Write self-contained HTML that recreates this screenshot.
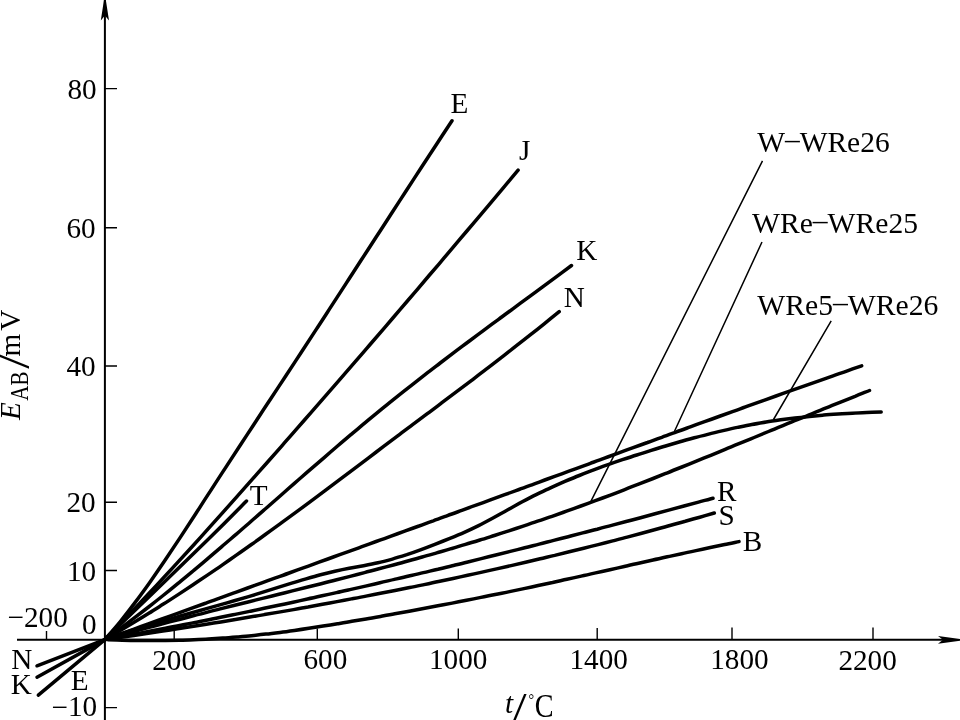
<!DOCTYPE html>
<html lang="zh"><head><meta charset="utf-8"><title>E_AB / t</title>
<style>html,body{margin:0;padding:0;background:#fff;overflow:hidden}body{width:960px;height:720px}svg{display:block}</style>
</head><body>
<svg width="960" height="720" viewBox="0 0 960 720">
<rect width="960" height="720" fill="#fff"/>
<g stroke="#000" fill="none">
<line x1="104.9" y1="0" x2="104.9" y2="720" stroke-width="2"/>
<line x1="17" y1="639.7" x2="945" y2="639.7" stroke-width="2.1"/>
<path d="M105 88.6H117M105 227.8H117M105 366.0H117M105 502.2H117M105 570.5H117M105 707.6H117M46.5 639.5V631.0M174.2 639.5V630.8M317.3 639.5V628.5M458.3 639.5V628.5M597.2 639.5V628.0M732.0 639.5V627.6M873.0 639.5V627.6" stroke-width="1.4"/>
<path d="M762.5 160.8L591.0 501.2M762.0 242.0L674.5 431.2M831.2 320.8L773.5 419.5" stroke-width="1.5"/>
</g>
<path d="M104.9 -6L100.8 20.5L104.9 15.5L109 20.5Z" fill="#000"/>
<path d="M966 639.8L938 636L943 639.8L938 643.8Z" fill="#000"/>
<g stroke="#000" stroke-width="3.5" fill="none" stroke-linecap="round" stroke-linejoin="round">
<path d="M104.8 639.6C107.3 636.7 114.9 628.1 119.9 622.0C124.9 615.8 130.0 609.3 135.0 602.6C140.0 595.9 145.1 589.0 150.1 581.9C155.1 574.8 160.2 567.4 165.2 560.0C170.2 552.6 175.2 545.0 180.3 537.4C185.3 529.7 190.3 522.0 195.4 514.2C200.4 506.5 205.4 498.6 210.5 490.9C215.5 483.1 220.5 475.3 225.6 467.6C230.6 459.9 235.6 452.2 240.7 444.5C245.7 436.8 250.7 429.2 255.8 421.5C260.8 413.9 265.8 406.2 270.9 398.6C275.9 391.0 280.9 383.3 285.9 375.7C291.0 368.0 296.0 360.4 301.0 352.7C306.1 345.0 311.1 337.3 316.1 329.6C321.2 321.9 326.2 314.1 331.2 306.4C336.3 298.6 341.3 290.9 346.3 283.1C351.4 275.4 356.4 267.6 361.4 259.8C366.5 252.1 371.5 244.3 376.5 236.5C381.6 228.8 386.6 221.0 391.6 213.2C396.6 205.5 401.7 197.7 406.7 190.0C411.7 182.3 416.8 174.5 421.8 166.8C426.8 159.1 431.9 151.4 436.9 143.7C441.9 136.0 449.5 124.6 452.0 120.8"/>
<path d="M104.8 639.6C107.3 637.1 114.6 629.5 119.6 624.4C124.5 619.3 129.4 614.1 134.3 609.0C139.2 603.8 144.2 598.6 149.1 593.3C154.0 588.1 158.9 582.8 163.8 577.4C168.8 572.1 173.7 566.8 178.6 561.4C183.5 556.0 188.4 550.6 193.4 545.2C198.3 539.8 203.2 534.3 208.1 528.9C213.0 523.4 218.0 517.9 222.9 512.4C227.8 506.9 232.7 501.4 237.6 495.8C242.6 490.3 247.5 484.8 252.4 479.2C257.3 473.6 262.2 468.1 267.2 462.5C272.1 456.9 277.0 451.3 281.9 445.8C286.8 440.2 291.8 434.6 296.7 428.9C301.6 423.3 306.5 417.7 311.4 412.1C316.4 406.4 321.3 400.8 326.2 395.2C331.1 389.5 336.1 383.9 341.0 378.2C345.9 372.5 350.8 366.8 355.7 361.1C360.7 355.5 365.6 349.7 370.5 344.0C375.4 338.3 380.3 332.6 385.3 326.9C390.2 321.1 395.1 315.4 400.0 309.6C404.9 303.9 409.9 298.1 414.8 292.4C419.7 286.6 424.6 280.8 429.5 275.0C434.5 269.2 439.4 263.5 444.3 257.7C449.2 251.9 454.1 246.1 459.1 240.2C464.0 234.4 468.9 228.6 473.8 222.8C478.7 217.0 483.7 211.1 488.6 205.3C493.5 199.5 498.4 193.6 503.3 187.8C508.3 181.9 515.6 173.2 518.1 170.2"/>
<path d="M104.8 639.6C121.9 623.0 183.9 563.1 207.5 540.0C231.1 516.9 240.0 507.5 246.5 501.0"/>
<path d="M104.8 639.6C107.2 637.9 114.5 632.7 119.4 629.1C124.2 625.5 129.1 621.9 134.0 618.2C138.8 614.5 143.7 610.8 148.6 607.0C153.4 603.2 158.3 599.3 163.1 595.5C168.0 591.6 172.9 587.6 177.7 583.6C182.6 579.7 187.4 575.6 192.3 571.6C197.2 567.5 202.0 563.5 206.9 559.3C211.8 555.2 216.6 551.1 221.5 546.9C226.3 542.7 231.2 538.6 236.1 534.4C240.9 530.1 245.8 525.9 250.6 521.7C255.5 517.5 260.4 513.2 265.2 509.0C270.1 504.7 275.0 500.4 279.8 496.2C284.7 491.9 289.5 487.7 294.4 483.4C299.3 479.2 304.1 474.9 309.0 470.7C313.8 466.5 318.7 462.3 323.6 458.1C328.4 453.9 333.3 449.7 338.1 445.5C343.0 441.4 347.9 437.2 352.7 433.1C357.6 429.0 362.5 425.0 367.3 420.9C372.2 416.9 377.0 412.9 381.9 408.9C386.8 404.9 391.6 401.0 396.5 397.1C401.3 393.2 406.2 389.4 411.1 385.6C415.9 381.8 420.8 378.0 425.7 374.2C430.5 370.4 435.4 366.7 440.2 363.0C445.1 359.3 450.0 355.6 454.8 351.9C459.7 348.3 464.5 344.6 469.4 341.0C474.3 337.3 479.1 333.7 484.0 330.1C488.9 326.5 493.7 322.9 498.6 319.3C503.4 315.7 508.3 312.2 513.2 308.6C518.0 305.0 522.9 301.4 527.7 297.8C532.6 294.3 537.5 290.7 542.3 287.1C547.2 283.5 552.1 279.9 556.9 276.3C561.8 272.7 569.1 267.3 571.5 265.5"/>
<path d="M104.8 639.6C107.2 638.2 114.6 634.0 119.5 631.1C124.3 628.2 129.2 625.3 134.1 622.3C139.0 619.4 143.9 616.4 148.8 613.3C153.7 610.3 158.5 607.2 163.4 604.1C168.3 601.0 173.2 597.8 178.1 594.6C183.0 591.4 187.9 588.2 192.7 585.0C197.6 581.7 202.5 578.4 207.4 575.1C212.3 571.8 217.2 568.5 222.1 565.1C227.0 561.7 231.8 558.3 236.7 554.9C241.6 551.5 246.5 548.0 251.4 544.5C256.3 541.1 261.2 537.6 266.0 534.0C270.9 530.5 275.8 527.0 280.7 523.4C285.6 519.9 290.5 516.3 295.4 512.7C300.2 509.1 305.1 505.5 310.0 501.8C314.9 498.2 319.8 494.5 324.7 490.9C329.6 487.2 334.4 483.6 339.3 479.9C344.2 476.2 349.1 472.5 354.0 468.8C358.9 465.1 363.8 461.4 368.6 457.8C373.5 454.1 378.4 450.4 383.3 446.7C388.2 443.0 393.1 439.4 398.0 435.7C402.8 432.0 407.7 428.4 412.6 424.7C417.5 421.1 422.4 417.4 427.3 413.7C432.2 410.1 437.0 406.4 441.9 402.7C446.8 399.0 451.7 395.4 456.6 391.7C461.5 388.0 466.4 384.3 471.3 380.6C476.1 376.9 481.0 373.1 485.9 369.4C490.8 365.7 495.7 361.9 500.6 358.1C505.5 354.3 510.3 350.6 515.2 346.7C520.1 342.9 525.0 339.1 529.9 335.2C534.8 331.4 539.7 327.5 544.5 323.6C549.4 319.6 556.8 313.7 559.2 311.7"/>
<path d="M104.8 639.6C107.2 638.7 114.3 636.2 119.1 634.4C123.8 632.7 128.6 631.0 133.4 629.3C138.1 627.6 142.9 625.8 147.6 624.1C152.4 622.4 157.2 620.7 161.9 619.0C166.7 617.2 171.4 615.5 176.2 613.8C181.0 612.1 185.7 610.4 190.5 608.6C195.2 606.9 200.0 605.2 204.8 603.5C209.5 601.8 214.3 600.1 219.0 598.3C223.8 596.6 228.6 594.9 233.3 593.2C238.1 591.5 242.9 589.7 247.6 588.0C252.4 586.3 257.1 584.6 261.9 582.9C266.7 581.1 271.4 579.4 276.2 577.7C280.9 576.0 285.7 574.3 290.5 572.5C295.2 570.8 300.0 569.1 304.7 567.4C309.5 565.7 314.3 563.9 319.0 562.2C323.8 560.5 328.5 558.8 333.3 557.0C338.1 555.3 342.8 553.6 347.6 551.9C352.3 550.2 357.1 548.4 361.9 546.7C366.6 545.0 371.4 543.2 376.1 541.5C380.9 539.8 385.7 538.1 390.4 536.3C395.2 534.6 399.9 532.9 404.7 531.2C409.5 529.4 414.2 527.7 419.0 526.0C423.7 524.2 428.5 522.5 433.3 520.8C438.0 519.0 442.8 517.3 447.5 515.6C452.3 513.8 457.1 512.1 461.8 510.4C466.6 508.6 471.3 506.9 476.1 505.2C480.9 503.4 485.6 501.7 490.4 499.9C495.2 498.2 499.9 496.5 504.7 494.7C509.4 493.0 514.2 491.2 519.0 489.5C523.7 487.7 528.5 486.0 533.2 484.3C538.0 482.5 542.8 480.8 547.5 479.0C552.3 477.3 557.0 475.5 561.8 473.8C566.6 472.1 571.3 470.3 576.1 468.6C580.8 466.8 585.6 465.1 590.4 463.3C595.1 461.6 599.9 459.9 604.6 458.1C609.4 456.4 614.2 454.6 618.9 452.9C623.7 451.1 628.4 449.4 633.2 447.7C638.0 445.9 642.7 444.2 647.5 442.5C652.2 440.7 657.0 439.0 661.8 437.3C666.5 435.5 671.3 433.8 676.0 432.1C680.8 430.3 685.6 428.6 690.3 426.9C695.1 425.1 699.8 423.4 704.6 421.7C709.4 420.0 714.1 418.3 718.9 416.5C723.6 414.8 728.4 413.1 733.2 411.4C737.9 409.7 742.7 408.0 747.5 406.2C752.2 404.5 757.0 402.8 761.7 401.1C766.5 399.4 771.3 397.7 776.0 396.0C780.8 394.3 785.5 392.6 790.3 390.9C795.1 389.2 799.8 387.6 804.6 385.9C809.3 384.2 814.1 382.5 818.9 380.8C823.6 379.1 828.4 377.5 833.1 375.8C837.9 374.1 842.7 372.5 847.4 370.8C852.2 369.1 859.3 366.6 861.7 365.8"/>
<path d="M104.8 639.6C107.2 638.8 114.4 636.3 119.2 634.7C124.0 633.1 128.8 631.5 133.6 630.0C138.4 628.5 143.1 627.0 147.9 625.5C152.7 624.1 157.5 622.6 162.3 621.2C167.1 619.8 171.9 618.4 176.7 617.1C181.5 615.7 186.3 614.3 191.1 613.0C195.9 611.6 200.7 610.3 205.5 608.9C210.2 607.6 215.0 606.2 219.8 604.9C224.6 603.5 229.4 602.2 234.2 600.8C239.0 599.4 243.8 598.0 248.6 596.6C253.4 595.1 258.2 593.7 263.0 592.2C267.8 590.7 272.6 589.2 277.3 587.7C282.1 586.2 286.9 584.7 291.7 583.2C296.5 581.7 301.3 580.3 306.1 578.9C310.9 577.5 315.7 576.1 320.5 574.8C325.3 573.5 330.1 572.3 334.9 571.2C339.7 570.1 344.4 569.1 349.2 568.2C354.0 567.3 358.8 566.6 363.6 565.7C368.4 564.8 373.2 563.9 378.0 562.8C382.8 561.7 387.6 560.4 392.4 559.1C397.2 557.7 402.0 556.2 406.8 554.7C411.5 553.1 416.3 551.4 421.1 549.6C425.9 547.9 430.7 546.0 435.5 544.1C440.3 542.2 445.1 540.3 449.9 538.4C454.7 536.4 459.5 534.4 464.3 532.3C469.1 530.2 473.9 527.9 478.6 525.6C483.4 523.2 488.2 520.6 493.0 518.0C497.8 515.4 502.6 512.6 507.4 510.0C512.2 507.3 517.0 504.6 521.8 502.0C526.6 499.5 531.4 497.0 536.2 494.6C541.0 492.3 545.7 490.0 550.5 487.8C555.3 485.6 560.1 483.5 564.9 481.4C569.7 479.4 574.5 477.4 579.3 475.5C584.1 473.6 588.9 471.7 593.7 469.9C598.5 468.1 603.3 466.4 608.1 464.7C612.8 463.0 617.6 461.3 622.4 459.7C627.2 458.1 632.0 456.5 636.8 455.0C641.6 453.4 646.4 451.9 651.2 450.4C656.0 448.9 660.8 447.4 665.6 446.0C670.4 444.6 675.2 443.2 679.9 441.8C684.7 440.4 689.5 439.1 694.3 437.8C699.1 436.5 703.9 435.3 708.7 434.1C713.5 432.8 718.3 431.7 723.1 430.6C727.9 429.5 732.7 428.4 737.5 427.4C742.3 426.4 747.0 425.4 751.8 424.5C756.6 423.6 761.4 422.8 766.2 422.0C771.0 421.2 775.8 420.5 780.6 419.8C785.4 419.2 790.2 418.6 795.0 418.0C799.8 417.4 804.6 416.9 809.4 416.4C814.1 416.0 818.9 415.5 823.7 415.1C828.5 414.7 833.3 414.4 838.1 414.1C842.9 413.7 847.7 413.5 852.5 413.2C857.3 412.9 862.1 412.7 866.9 412.5C871.7 412.3 878.9 412.1 881.2 412.0"/>
<path d="M104.8 639.6C107.2 638.9 114.4 636.9 119.2 635.5C124.0 634.2 128.8 632.9 133.7 631.5C138.5 630.2 143.3 628.9 148.1 627.6C152.9 626.3 157.7 625.1 162.5 623.8C167.3 622.5 172.1 621.3 176.9 620.0C181.8 618.8 186.6 617.5 191.4 616.3C196.2 615.0 201.0 613.8 205.8 612.6C210.6 611.4 215.4 610.2 220.2 608.9C225.0 607.7 229.8 606.5 234.7 605.3C239.5 604.1 244.3 602.9 249.1 601.7C253.9 600.5 258.7 599.3 263.5 598.1C268.3 596.9 273.1 595.7 277.9 594.5C282.7 593.3 287.6 592.1 292.4 590.9C297.2 589.7 302.0 588.5 306.8 587.3C311.6 586.1 316.4 584.9 321.2 583.7C326.0 582.5 330.8 581.3 335.7 580.0C340.5 578.8 345.3 577.6 350.1 576.4C354.9 575.1 359.7 573.9 364.5 572.6C369.3 571.4 374.1 570.1 378.9 568.8C383.7 567.5 388.6 566.3 393.4 565.0C398.2 563.7 403.0 562.4 407.8 561.0C412.6 559.7 417.4 558.4 422.2 557.0C427.0 555.7 431.8 554.3 436.7 552.9C441.5 551.5 446.3 550.2 451.1 548.7C455.9 547.3 460.7 545.9 465.5 544.4C470.3 543.0 475.1 541.5 479.9 540.0C484.7 538.6 489.6 537.0 494.4 535.5C499.2 534.0 504.0 532.4 508.8 530.9C513.6 529.3 518.4 527.7 523.2 526.1C528.0 524.5 532.8 522.9 537.6 521.2C542.5 519.6 547.3 517.9 552.1 516.3C556.9 514.6 561.7 512.9 566.5 511.2C571.3 509.5 576.1 507.7 580.9 506.0C585.7 504.2 590.6 502.5 595.4 500.7C600.2 498.9 605.0 497.1 609.8 495.3C614.6 493.4 619.4 491.6 624.2 489.8C629.0 487.9 633.8 486.0 638.6 484.2C643.5 482.3 648.3 480.4 653.1 478.5C657.9 476.6 662.7 474.7 667.5 472.8C672.3 470.8 677.1 468.9 681.9 467.0C686.7 465.0 691.6 463.1 696.4 461.1C701.2 459.2 706.0 457.2 710.8 455.3C715.6 453.3 720.4 451.3 725.2 449.3C730.0 447.4 734.8 445.4 739.6 443.4C744.5 441.4 749.3 439.5 754.1 437.5C758.9 435.5 763.7 433.5 768.5 431.5C773.3 429.6 778.1 427.6 782.9 425.6C787.7 423.6 792.5 421.6 797.4 419.7C802.2 417.7 807.0 415.7 811.8 413.8C816.6 411.8 821.4 409.8 826.2 407.9C831.0 405.9 835.8 404.0 840.6 402.1C845.5 400.1 850.3 398.2 855.1 396.3C859.9 394.3 867.1 391.5 869.5 390.5"/>
<path d="M104.8 639.6C107.2 639.2 114.5 637.8 119.3 636.9C124.1 636.1 128.9 635.2 133.8 634.3C138.6 633.4 143.4 632.4 148.2 631.5C153.1 630.6 157.9 629.7 162.7 628.8C167.6 627.8 172.4 626.9 177.2 626.0C182.0 625.0 186.9 624.1 191.7 623.1C196.5 622.2 201.3 621.2 206.2 620.2C211.0 619.3 215.8 618.3 220.6 617.3C225.5 616.3 230.3 615.4 235.1 614.4C240.0 613.4 244.8 612.4 249.6 611.4C254.4 610.4 259.3 609.4 264.1 608.3C268.9 607.3 273.7 606.3 278.6 605.3C283.4 604.2 288.2 603.2 293.1 602.2C297.9 601.1 302.7 600.1 307.5 599.0C312.4 598.0 317.2 596.9 322.0 595.8C326.8 594.8 331.7 593.7 336.5 592.6C341.3 591.6 346.1 590.5 351.0 589.4C355.8 588.3 360.6 587.2 365.5 586.1C370.3 585.0 375.1 583.9 379.9 582.8C384.8 581.7 389.6 580.5 394.4 579.4C399.2 578.3 404.1 577.2 408.9 576.0C413.7 574.9 418.6 573.8 423.4 572.6C428.2 571.5 433.0 570.3 437.9 569.2C442.7 568.0 447.5 566.8 452.3 565.7C457.2 564.5 462.0 563.3 466.8 562.2C471.7 561.0 476.5 559.8 481.3 558.6C486.1 557.4 491.0 556.2 495.8 555.0C500.6 553.8 505.4 552.6 510.3 551.4C515.1 550.2 519.9 549.0 524.7 547.8C529.6 546.6 534.4 545.3 539.2 544.1C544.1 542.9 548.9 541.6 553.7 540.4C558.5 539.2 563.4 537.9 568.2 536.7C573.0 535.4 577.8 534.2 582.7 532.9C587.5 531.7 592.3 530.4 597.2 529.2C602.0 527.9 606.8 526.6 611.6 525.4C616.5 524.1 621.3 522.8 626.1 521.5C630.9 520.3 635.8 519.0 640.6 517.7C645.4 516.4 650.2 515.1 655.1 513.8C659.9 512.5 664.7 511.2 669.6 509.9C674.4 508.6 679.2 507.3 684.0 506.0C688.9 504.7 693.7 503.4 698.5 502.1C703.3 500.8 710.6 498.9 713.0 498.2"/>
<path d="M104.8 639.6C107.2 639.2 114.5 638.2 119.3 637.5C124.1 636.8 129.0 636.1 133.8 635.4C138.7 634.7 143.5 633.9 148.3 633.2C153.2 632.5 158.0 631.7 162.8 631.0C167.7 630.3 172.5 629.5 177.4 628.8C182.2 628.0 187.0 627.3 191.9 626.5C196.7 625.7 201.5 625.0 206.4 624.2C211.2 623.4 216.1 622.7 220.9 621.9C225.7 621.1 230.6 620.3 235.4 619.5C240.2 618.7 245.1 617.9 249.9 617.1C254.8 616.2 259.6 615.4 264.4 614.6C269.3 613.8 274.1 612.9 278.9 612.1C283.8 611.3 288.6 610.4 293.5 609.6C298.3 608.7 303.1 607.8 308.0 607.0C312.8 606.1 317.6 605.2 322.5 604.3C327.3 603.4 332.2 602.5 337.0 601.6C341.8 600.7 346.7 599.8 351.5 598.9C356.3 598.0 361.2 597.1 366.0 596.1C370.9 595.2 375.7 594.3 380.5 593.3C385.4 592.4 390.2 591.4 395.0 590.5C399.9 589.5 404.7 588.5 409.6 587.5C414.4 586.6 419.2 585.6 424.1 584.6C428.9 583.6 433.7 582.6 438.6 581.5C443.4 580.5 448.2 579.5 453.1 578.5C457.9 577.4 462.8 576.4 467.6 575.3C472.4 574.3 477.3 573.2 482.1 572.1C486.9 571.1 491.8 570.0 496.6 568.9C501.5 567.8 506.3 566.7 511.1 565.6C516.0 564.5 520.8 563.4 525.6 562.3C530.5 561.1 535.3 560.0 540.2 558.8C545.0 557.7 549.8 556.5 554.7 555.4C559.5 554.2 564.3 553.0 569.2 551.8C574.0 550.6 578.9 549.4 583.7 548.2C588.5 547.0 593.4 545.8 598.2 544.6C603.0 543.4 607.9 542.1 612.7 540.9C617.6 539.6 622.4 538.3 627.2 537.1C632.1 535.8 636.9 534.5 641.7 533.2C646.6 531.9 651.4 530.6 656.3 529.3C661.1 528.0 665.9 526.7 670.8 525.3C675.6 524.0 680.4 522.6 685.3 521.3C690.1 519.9 695.0 518.5 699.8 517.2C704.6 515.8 711.9 513.7 714.3 513.0"/>
<path d="M108.0 639.7C110.4 639.8 117.6 640.0 122.3 640.2C127.1 640.3 131.9 640.4 136.7 640.4C141.5 640.5 146.2 640.5 151.0 640.6C155.8 640.6 160.6 640.5 165.4 640.5C170.1 640.4 174.9 640.3 179.7 640.2C184.5 640.1 189.3 639.9 194.0 639.7C198.8 639.5 203.6 639.3 208.4 639.0C213.2 638.7 217.9 638.4 222.7 638.1C227.5 637.8 232.3 637.4 237.1 637.0C241.8 636.6 246.6 636.2 251.4 635.7C256.2 635.2 261.0 634.7 265.8 634.1C270.5 633.6 275.3 633.0 280.1 632.4C284.9 631.8 289.7 631.1 294.4 630.4C299.2 629.8 304.0 629.1 308.8 628.3C313.6 627.6 318.3 626.9 323.1 626.1C327.9 625.3 332.7 624.6 337.5 623.8C342.2 623.0 347.0 622.2 351.8 621.3C356.6 620.5 361.4 619.7 366.1 618.9C370.9 618.0 375.7 617.2 380.5 616.4C385.3 615.5 390.0 614.6 394.8 613.8C399.6 612.9 404.4 612.1 409.2 611.2C413.9 610.3 418.7 609.4 423.5 608.5C428.3 607.6 433.1 606.7 437.8 605.8C442.6 604.9 447.4 604.0 452.2 603.1C457.0 602.1 461.7 601.2 466.5 600.3C471.3 599.3 476.1 598.4 480.9 597.4C485.6 596.4 490.4 595.5 495.2 594.5C500.0 593.5 504.8 592.6 509.5 591.6C514.3 590.6 519.1 589.6 523.9 588.6C528.7 587.6 533.4 586.6 538.2 585.5C543.0 584.5 547.8 583.5 552.6 582.5C557.3 581.4 562.1 580.4 566.9 579.3C571.7 578.3 576.5 577.2 581.2 576.1C586.0 575.1 590.8 574.0 595.6 572.9C600.4 571.9 605.2 570.8 609.9 569.7C614.7 568.6 619.5 567.6 624.3 566.5C629.1 565.4 633.8 564.3 638.6 563.3C643.4 562.2 648.2 561.1 653.0 560.0C657.7 559.0 662.5 557.9 667.3 556.8C672.1 555.8 676.9 554.7 681.6 553.7C686.4 552.6 691.2 551.6 696.0 550.6C700.8 549.5 705.5 548.5 710.3 547.5C715.1 546.5 719.9 545.5 724.7 544.5C729.4 543.5 736.6 542.1 739.0 541.6"/>
<path d="M104.8 639.6L37.0 665.8"/>
<path d="M104.8 639.6L37.0 677.2"/>
<path d="M104.8 639.6L38.3 695.1"/>
</g>
<g font-family="'Liberation Serif', 'Noto Serif CJK SC', serif" font-size="29.2" fill="#000">
<text x="67.5" y="99.0">80</text>
<text x="66.5" y="238.0">60</text>
<text x="66.5" y="376.0">40</text>
<text x="66.5" y="512.4">20</text>
<text x="67.0" y="581.0">10</text>
<text x="82.0" y="634.0">0</text>
<text x="152.2" y="669.6">200</text>
<text x="303.5" y="669.0">600</text>
<text x="429.0" y="669.0">1000</text>
<text x="569.5" y="669.4">1400</text>
<text x="710.2" y="669.4">1800</text>
<text x="838.4" y="670.0">2200</text>
<text x="450.5" y="112.5">E</text>
<text x="519.0" y="159.8">J</text>
<text x="576.3" y="259.8">K</text>
<text x="563.8" y="307.2">N</text>
<text x="249.8" y="504.8">T</text>
<text x="716.9" y="501.3">R</text>
<text x="718.4" y="525.3">S</text>
<text x="742.7" y="550.5">B</text>
<text x="11.2" y="669.0">N</text>
<text x="10.8" y="694.3">K</text>
<text x="70.7" y="690.4">E</text>
<text x="7.5" y="627.4"><tspan dy="0">−</tspan><tspan dy="0">200</tspan></text>
<text x="51.5" y="716.4"><tspan dy="0.7">−</tspan><tspan dy="-0.7">10</tspan></text>
<text x="757.2" y="152.1" font-size="29.45">W<tspan dy="-3.6">–</tspan><tspan dy="3.6">WRe26</tspan></text>
<text x="752" y="233.3" font-size="29.6">WRe<tspan dy="-3.4">–</tspan><tspan dy="3.4">WRe25</tspan></text>
<text x="757.3" y="315.2" font-size="29.65">WRe5<tspan dy="-3.6">–</tspan><tspan dy="3.6">WRe26</tspan></text>
<text x="505" y="713" font-style="italic">t</text>
<text transform="translate(512,722.5) scale(1.18,1)" font-size="44.5">/</text>
<text transform="translate(528.6,716.6) scale(0.91,1.08)" font-size="31"><tspan font-size="15.5" dy="-10.6">°</tspan><tspan dy="10.6" dx="0.5">C</tspan></text>
<g transform="translate(19.8,421) rotate(-90)">
<text x="1" y="0" font-style="italic">E</text>
<text transform="translate(20.3,8.4) scale(1,1.2)" font-size="21">AB</text>
<text transform="translate(52.2,9) scale(1.18,1)" font-size="45.6">/</text>
<text x="64.6" y="0">m</text>
<text x="90.3" y="0">V</text>
</g>
</g>
</svg>
</body></html>
